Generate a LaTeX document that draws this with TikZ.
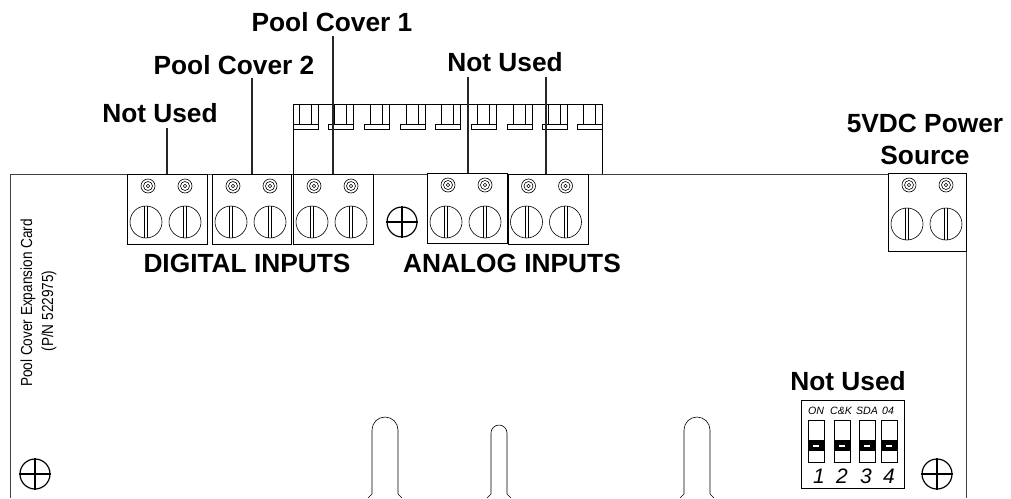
\documentclass[tikz,border=0pt]{standalone}
\usepackage{fontspec}
\setmainfont{Liberation Sans}
\usetikzlibrary{calc,positioning}

\begin{document}
\begin{tikzpicture}[
x=1pt,
y=-1pt,
board/.style={
	line width=0.9pt,
	draw=black!75
},
termblock/.style={
	draw,
	fill=white,
	rectangle,
	anchor=north west,
	inner sep=0pt,
	line width=0.9pt
},
thinline/.style={
	line width=0.6pt
},
leader/.style={
	line width=1.8pt,
	draw=black!85
},
mounthole/.style={
	draw,
	circle,
	line width=1.2pt,
	minimum size=30pt,
	inner sep=0pt
},
biglabel/.style={
	font=\fontsize{26.3}{32}\selectfont\bfseries,
	inner sep=0pt,
	align=center
},
cardlabel/.style={
	font=\fontsize{16}{18}\selectfont,
	inner sep=0pt,
	rotate=90
},
dipswitch/.style={
	draw,
	fill=white,
	rectangle,
	anchor=north west,
	inner sep=0pt,
	line width=0.6pt,
	minimum width=16pt,
	minimum height=42pt
}
]
\useasboundingbox (0,0) rectangle (1011,498);

% board outline
\draw[board] (10,498) -- (10,174) -- (888,174);
\draw[board] (966,251) -- (966,498);

% connector strip behind the board
\draw[thinline] (293,174) -- (293,104) -- (602,104) -- (602,174);
\foreach \x in {293,328.5,364,400,435.5,471,507,542,577}
{
	\draw[thinline] (\x+6,104) -- (\x+6,124);
	\draw[thinline] (\x+18,104) -- (\x+18,124);
	\draw[thinline] (\x+25,104) -- (\x+25,129) -- (\x,129) -- (\x,124) -- (\x+25,124);
}

% terminal blocks
\foreach \n/\x/\y/\w/\h/\b in {blocka/127/174/80/70/48,blockb/212/174/79/70/48,blockc/293/174/80/70/48,blockd/427/173/80/70/49,blocke/507.5/174/80/70/48,blockf/888/173/78/78/51}
{
	\node[termblock,minimum width=\w pt,minimum height=\h pt] (\n) at (\x,\y) {};
	\foreach \s/\t in {19/21,58/58}
	{
		\draw[thinline] (\x+\t,\y+12) circle (7pt);
		\draw[thinline] (\x+\t,\y+12) circle (4.5pt);
		\draw[thinline] (\x+\t,\y+12) circle (1.8pt);
		\draw[thinline] (\x+\s,\y+\b) circle (16pt);
		\draw[thinline] (\x+\s-1.6,\y+\b-16) -- (\x+\s-1.6,\y+\b+16);
		\draw[thinline] (\x+\s+1.6,\y+\b-16) -- (\x+\s+1.6,\y+\b+16);
	}
}

% labels
\node[biglabel] (notuseda) at (160,113) {Not Used};
\node[biglabel] (coverb) at (234,65) {Pool Cover 2};
\node[biglabel] (covera) at (332,22) {Pool Cover 1};
\node[biglabel] (notusedb) at (505,62) {Not Used};
\node[biglabel] (power) at (925,139) {5VDC Power\\Source};
\node[biglabel] (digital) at (247,263) {DIGITAL INPUTS};
\node[biglabel] (analog) at (512,263) {ANALOG INPUTS};
\node[biglabel] (notusedc) at (848,381) {Not Used};
\node[cardlabel] (cardname) at (28,303) {\scalebox{0.85}[1]{Pool Cover Expansion Card}};
\node[cardlabel] (cardpn) at (49,311) {\scalebox{0.85}[1]{(P/N 522975)}};

% leaders
\coordinate (tapa) at (167,128);
\coordinate (tapb) at (252,78);
\coordinate (tapc) at (333,36);
\coordinate (tapd) at (468,77);
\coordinate (tape) at (546,77);
\draw[leader] (tapa) -- (tapa |- blocka.north);
\draw[leader] (tapb) -- (tapb |- blockb.north);
\draw[leader] (tapc) -- (tapc |- blockc.north);
\draw[leader] (tapd) -- (tapd |- blockd.north);
\draw[leader] (tape) -- (tape |- blocke.north);

% mounting holes
\foreach \n/\x/\y in {holea/35/474,holeb/402/222,holec/937/474}
{
	\node[mounthole] (\n) at (\x,\y) {};
	\draw[line width=1.2pt] (\n.north) -- (\n.south);
	\draw[line width=1.2pt] (\n.west) -- (\n.east);
}

% slots
\foreach \x/\r/\t in {372/13/417,491/8/425,684/13/417}
{
	\draw[thinline] (\x-4,498) -- (\x,494) -- (\x,\t+\r) arc (180:0:\r pt) -- (\x+2*\r,494) -- (\x+2*\r+4,498);
}

% dip switch
\node[draw,rectangle,anchor=north west,inner sep=0pt,thinline,minimum width=103pt,minimum height=88pt] (dip) at (801,400) {};
\foreach \i/\x/\l/\lx/\dx in {1/808/ON/816/819,2/834/C\&K/841/842,3/859/SDA/867/866,4/881/04/888/889}
{
	\node[dipswitch] (sw\i) at (\x,420) {};
	\fill (\x,440) rectangle (\x+16,451);
	\fill[white] (\x+5,444.5) rectangle (\x+11,446.5);
	\node[inner sep=0pt,font=\fontsize{10.6}{13}\selectfont\itshape] (top\i) at (\lx,411) {\l};
	\node[inner sep=0pt,font=\fontsize{21}{23}\selectfont\itshape] (num\i) at (\dx,476) {\i};
}
\end{tikzpicture}
\end{document}
